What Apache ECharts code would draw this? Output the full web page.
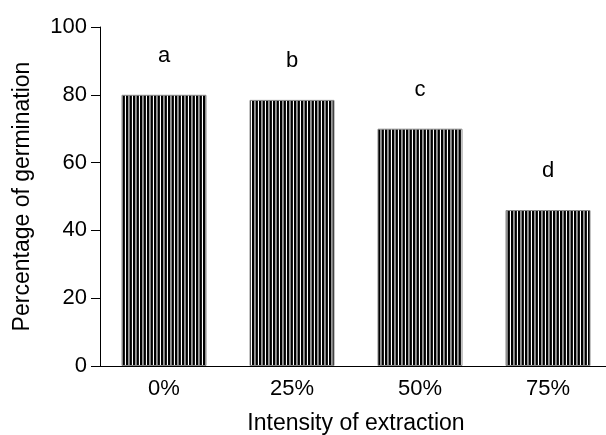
<!DOCTYPE html>
<html><head><meta charset="utf-8">
<script src="https://cdn.jsdelivr.net/npm/echarts@6/dist/echarts.min.js"></script>
<style>html,body{margin:0;padding:0;background:#fff}#c{width:606px;height:435px}</style>
</head><body><div id="c"></div>
<script>
const categories = ['0%', '25%', '50%', '75%'];
const germination = [80, 78.5, 70, 46];
const letters = ['a', 'b', 'c', 'd'];
const yTicks = [0, 20, 40, 60, 80, 100];

function makePattern() {
  const cv = document.createElement('canvas');
  cv.width = 7; cv.height = 10;
  const ctx = cv.getContext('2d');
  ctx.fillStyle = '#fff'; ctx.fillRect(0, 0, 7, 10);
  ctx.fillStyle = '#000';
  ctx.fillRect(0, 0, 2.4, 10);
  ctx.fillRect(3.5, 0, 2.4, 10);
  return cv;
}

const chart = echarts.init(document.getElementById('c'), null, {renderer: 'canvas'});
const FONT = '"Liberation Sans", Arial, sans-serif';
chart.setOption({
  animation: false,
  grid: {left: 100, right: -6, top: 27, bottom: 69, outerBoundsMode: 'none', containLabel: false},
  xAxis: {
    type: 'category', data: categories,
    axisLine: {lineStyle: {color: '#000', width: 1}},
    axisTick: {alignWithLabel: true, length: 6, lineStyle: {color: '#000'}},
    axisLabel: {color: '#000', fontSize: 22, fontFamily: FONT, margin: 12},
    name: 'Intensity of extraction', nameLocation: 'middle', nameGap: 46,
    nameTextStyle: {color: '#000', fontSize: 23, fontFamily: FONT}
  },
  yAxis: {
    type: 'value', min: yTicks[0], max: yTicks[yTicks.length - 1], interval: 20,
    axisLine: {show: true, lineStyle: {color: '#000', width: 1}},
    axisTick: {show: true, inside: false, length: 9, lineStyle: {color: '#000'}},
    splitLine: {show: false},
    axisLabel: {color: '#000', fontSize: 22, fontFamily: FONT, margin: 13},
    name: 'Percentage of germination', nameLocation: 'middle', nameGap: 66,
    nameTextStyle: {color: '#000', fontSize: 23, fontFamily: FONT}
  },
  series: [{
    type: 'bar', data: germination, barWidth: 85,
    itemStyle: {
      color: {image: makePattern(), repeat: 'repeat'},
      borderColor: '#888', borderWidth: 1
    },
    label: {
      show: true, position: 'top', distance: 28,
      formatter: p => letters[p.dataIndex],
      color: '#000', fontSize: 22, fontFamily: FONT
    }
  }]
});
</script></body></html>
